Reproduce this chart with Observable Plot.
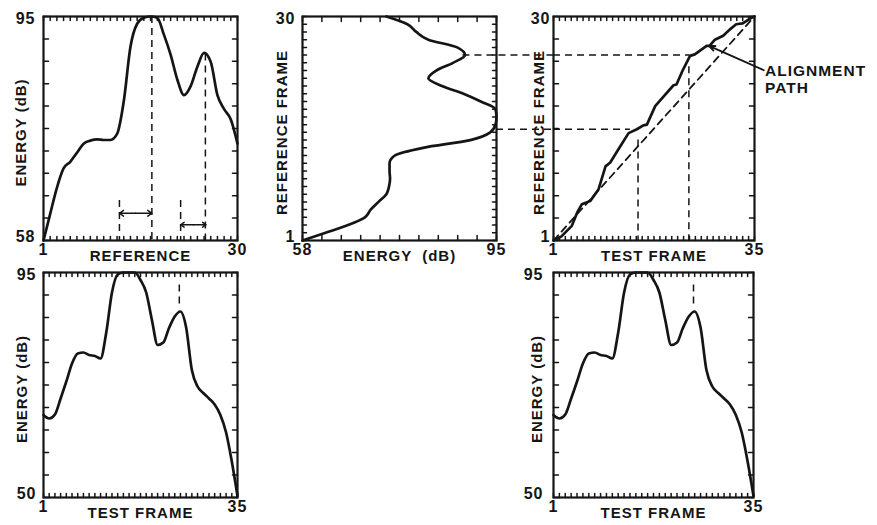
<!DOCTYPE html>
<html>
<head>
<meta charset="utf-8">
<script src="https://cdn.jsdelivr.net/npm/d3@7"></script>
<script src="https://cdn.jsdelivr.net/npm/@observablehq/plot@0.6"></script>
<style>
  html, body { margin: 0; padding: 0; background: #fff; }
  #chart { position: relative; width: 877px; height: 525px; overflow: hidden; background: #fff; }
  #chart svg { position: absolute; left: 0; top: 0; background: transparent !important; }
  #chart svg text { letter-spacing: 1px; }
</style>
</head>
<body>
<div id="chart"></div>
<script>
// ---------------- data ----------------
// reference utterance: energy contour per reference frame
const refFrames = [1,2,3,4,5,6,7,8,9,10,11,12,13,14,15,16,17,18,19,20,21,22,23,24,25,26,27,28,29,30];
const refEnergy = [58, 62.4, 66.7, 69.9, 71, 72.5, 74, 74.5, 74.7, 74.6, 74.6, 75.6, 81, 90, 93.8, 94.8, 95, 94.8, 92, 88.7, 84.6, 82, 83.5, 86.7, 89, 87.5, 82, 79.7, 78, 74];

// test utterance: energy contour per test frame
const testFrames = [1,2,3,4,5,6,7,8,9,10,11,12,13,14,15,16,17,18,19,20,21,22,23,24,25,26,27,28,29,30,31,32,33,34,35];
const testEnergy = [66.5, 65.8, 66.6, 69.8, 73.2, 76.8, 78.8, 79.0, 78.5, 78.3, 77.8, 83, 91, 94.6, 95, 95, 95, 93.5, 91, 85.5, 80.5, 81, 83.9, 86.2, 87.2, 84, 75.5, 72.2, 70.9, 69.8, 68.6, 66.5, 63, 57.2, 50.3];

// alignment path (test frame -> reference frame)
const pathTest = [1, 2.3, 4.1, 5.0, 5.8, 7.2, 8.6, 9.8, 10.6, 12.3, 13.7, 15.1, 16.2, 16.8, 18.2, 19.9, 21.3, 21.8, 22.9, 24.1, 24.9, 26.9, 27.4, 28.3, 29.7, 30.8, 31.9, 33.0, 34.4, 35];
const pathRef  = [1, 1.5, 2.9, 4.6, 5.7, 6.1, 7.6, 10.6, 11.1, 13.2, 14.9, 15.4, 15.9, 16.0, 18.4, 19.9, 21.1, 21.2, 23.1, 24.9, 25.1, 26.2, 26.2, 27.0, 27.5, 28.3, 29.0, 29.1, 29.8, 30];
// linear (diagonal) path
const diagTest = [1, 35];
const diagRef = [1, 30];

// marker values
const refPeakFrames = [17.2, 25.2];
const refPeakEnergy = [95, 88.8];
const refSpanStart = [12.35, 21.5];
const refSpanEnd = [17.2, 25.3];
const refSpanLevel = [62.5, 60.6];
const refSpanTop = [64.6, 64.6];
const alignRef = [25, 15.4];
const alignRefEnergy = [88.6, 95];
const alignPathTest = [24.1, 14.0];
const alignTestFrames = [23.9, 15.3];
const alignTestRefTop = [23.5, 14.0];
const testPeakFrames = [24.8];
const testPeakTop = [92.5];
const testPeakBottom = [88];
const calloutTest = [27.3];
const calloutRef = [26.2];
const calloutText = ["ALIGNMENT\nPATH"];

// axis ranges / tick labels
const refFrameDomain = [1, 30];
const testFrameDomain = [1, 35];
const refEnergyDomain = [58, 95];
const testEnergyDomain = [50, 95];

// ---------------- layout ----------------
const W = 877, H = 525;
const BOX = {
  p1: [43, 16, 237, 240],
  p2: [302, 16, 496, 240],
  p3: [553, 16, 754, 240],
  p4: [43, 272, 237, 497],
  p5: [553, 272, 753, 497]
};
const INK = "#151515";
const FONT = "'Liberation Sans', Arial, Helvetica, sans-serif";
const TXT = {fontFamily: FONT, fontWeight: "bold", fill: INK};
const DASH = {stroke: INK, strokeWidth: 1.5, strokeDasharray: "7,5"};
const CURVE = {stroke: INK, strokeWidth: 2.7, strokeLinejoin: "round", strokeLinecap: "round"};
const LINE = {draw(ctx, l) { ctx.moveTo(0, 0); ctx.lineTo(0, -l); }};
const div10 = ([a, b]) => d3.range(11).map(i => a + (b - a) * i / 10);
const chart = document.getElementById("chart");
const tickLayers = [];

function plotFor(c, marks) {
  const [L, T, R, B] = c.box;
  return Plot.plot({
    width: W, height: H,
    marginLeft: L, marginTop: T, marginRight: W - R, marginBottom: H - B,
    x: {domain: c.xDomain, axis: null},
    y: {domain: c.yDomain, axis: null},
    style: "background: transparent;",
    marks
  });
}

function panel(c) {
  const [x0, x1] = c.xDomain, [y0, y1] = c.yDomain;
  chart.append(plotFor(c, [
    ...c.marks,
    Plot.text([y1], {y: d => d, text: d => String(d), frameAnchor: "left", textAnchor: "end", lineAnchor: "middle", dx: -c.yNumGap, dy: 2, fontSize: 16, ...TXT}),
    Plot.text([y0], {y: d => d, text: d => String(d), frameAnchor: "left", textAnchor: "end", lineAnchor: "middle", dx: -c.yNumGap, dy: -4, fontSize: 16, ...TXT}),
    Plot.text(c.xDomain, {x: d => d, text: d => String(d), frameAnchor: "bottom", textAnchor: "middle", lineAnchor: "middle", dy: 9, fontSize: 16, ...TXT}),
    Plot.text([c.xTitle], {text: d => d, frameAnchor: "bottom", textAnchor: "middle", lineAnchor: "middle", dy: 16, fontSize: 15, ...TXT}),
    Plot.text([c.yTitle], {text: d => d, frameAnchor: "left", textAnchor: "middle", lineAnchor: "middle", rotate: -90, dx: -c.yTitleGap, dy: 4, fontSize: 15, ...TXT})
  ]));
  // frame + inward ticks drawn in an overlay layer added last
  const tick = {stroke: INK, strokeWidth: 1.5, shape: LINE, anchor: "start"};
  tickLayers.push(plotFor(c, [
    Plot.vector(c.xTicks, {x: d => d, frameAnchor: "bottom", length: c.xTickLen, rotate: 0, ...tick}),
    Plot.vector(c.xTicks, {x: d => d, frameAnchor: "top", length: c.xTickLen, rotate: 180, ...tick}),
    Plot.vector(c.yTicks, {y: d => d, frameAnchor: "left", length: c.yTickLen, rotate: 90, ...tick}),
    Plot.vector(c.yTicks, {y: d => d, frameAnchor: "right", length: c.yTickLen, rotate: 270, ...tick}),
    Plot.frame({stroke: INK, strokeWidth: 2.2})
  ]));
}

// ---- panel 1: reference energy vs reference frame ----
const spanRows = refSpanStart.map((s, i) => ({s, e: refSpanEnd[i], lvl: refSpanLevel[i], mid: (s + refSpanEnd[i]) / 2}));
panel({
  box: BOX.p1, xDomain: refFrameDomain, yDomain: refEnergyDomain,
  xTicks: refFrames, xTickLen: 4, yTicks: div10(refEnergyDomain), yTickLen: 5,
  xTitle: "REFERENCE", yTitle: "ENERGY (dB)", yNumGap: 8, yTitleGap: 22,
  marks: [
    Plot.ruleX(refPeakFrames, {x: d => d, y1: refPeakEnergy, y2: refEnergyDomain[0], ...DASH}),
    Plot.ruleX(refSpanStart, {x: d => d, y1: refSpanTop, y2: refEnergyDomain[0], ...DASH}),
    Plot.arrow(spanRows, {x1: "mid", x2: "s", y1: "lvl", y2: "lvl", headLength: 5, headAngle: 70, stroke: INK, strokeWidth: 1.5}),
    Plot.arrow(spanRows, {x1: "mid", x2: "e", y1: "lvl", y2: "lvl", headLength: 5, headAngle: 70, stroke: INK, strokeWidth: 1.5}),
    Plot.line(refEnergy, {x: refFrames, y: refEnergy, curve: "monotone-x", ...CURVE})
  ]
});

// ---- panel 2: reference frame vs energy (rotated contour) ----
panel({
  box: BOX.p2, xDomain: refEnergyDomain, yDomain: refFrameDomain,
  xTicks: div10(refEnergyDomain), xTickLen: 5, yTicks: refFrames, yTickLen: 4,
  xTitle: "ENERGY \u00a0(dB)", yTitle: "REFERENCE FRAME", yNumGap: 7, yTitleGap: 20,
  marks: [
    Plot.ruleY(alignRef, {y: d => d, x1: alignRefEnergy, x2: refEnergyDomain[1], insetRight: -(BOX.p3[0] - BOX.p2[2]), ...DASH}),
    Plot.line(refEnergy, {x: refEnergy, y: refFrames, curve: "monotone-y", ...CURVE})
  ]
});

// ---- panel 3: alignment path ----
panel({
  box: BOX.p3, xDomain: testFrameDomain, yDomain: refFrameDomain,
  xTicks: testFrames, xTickLen: 4, yTicks: div10(refFrameDomain), yTickLen: 5,
  xTitle: "TEST FRAME", yTitle: "REFERENCE FRAME", yNumGap: 3, yTitleGap: 14,
  marks: [
    Plot.line(diagTest, {x: diagTest, y: diagRef, ...DASH, strokeWidth: 1.8}),
    Plot.ruleY(alignRef, {y: d => d, x1: testFrameDomain[0], x2: alignPathTest, ...DASH}),
    Plot.ruleX(alignTestFrames, {x: d => d, y1: alignTestRefTop, y2: refFrameDomain[0], ...DASH}),
    Plot.line(pathTest, {x: pathTest, y: pathRef, ...CURVE}),
    Plot.vector(calloutTest, {
      x: calloutTest, y: calloutRef, length: 60, rotate: 294, anchor: "end",
      stroke: INK, strokeWidth: 1.8,
      shape: {draw(ctx, l) { ctx.moveTo(0, 0); ctx.lineTo(0, -l); ctx.moveTo(-2.5, -l + 6); ctx.lineTo(0, -l); ctx.lineTo(2.5, -l + 6); }}
    }),
    Plot.text(calloutText, {x: calloutTest, y: calloutRef, text: d => d, textAnchor: "start", lineAnchor: "top", lineHeight: 1.05, dx: 56, dy: 19, fontSize: 15.5, ...TXT})
  ]
});

// ---- panels 4 & 5: test energy vs test frame ----
for (const [box, gapN, gapT] of [[BOX.p4, 7, 21], [BOX.p5, 10, 16]]) {
  panel({
    box, xDomain: testFrameDomain, yDomain: testEnergyDomain,
    xTicks: testFrames, xTickLen: 4, yTicks: div10(testEnergyDomain), yTickLen: 5,
    xTitle: "TEST FRAME", yTitle: "ENERGY (dB)", yNumGap: gapN, yTitleGap: gapT,
    marks: [
      Plot.ruleX(testPeakFrames, {x: d => d, y1: testPeakTop, y2: testPeakBottom, ...DASH}),
      Plot.line(testEnergy, {x: testFrames, y: testEnergy, curve: "monotone-x", ...CURVE})
    ]
  });
}

// overlay layers with frames and ticks go on top
tickLayers.forEach(svg => chart.append(svg));
</script>
</body>
</html>
